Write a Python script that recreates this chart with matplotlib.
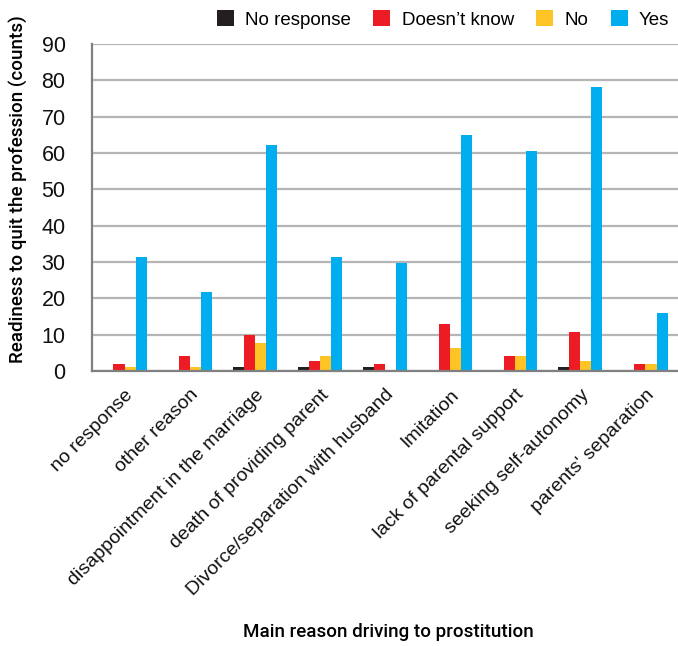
import numpy as np
import matplotlib
matplotlib.use("Agg")
import matplotlib.pyplot as plt

plt.rcParams['font.family'] = ['Liberation Sans', 'DejaVu Sans']

# data
reasons = ["no response", "other reason", "disappointment in the marriage",
           "death of providing parent", "Divorce/separation with husband",
           "Imitation", "lack of parental support", "seeking self-autonomy",
           "parents' separation"]
no_response = [0, 0, 1, 1, 1, 0, 0, 1, 0]
doesnt_know = [2, 4, 10, 2.7, 2, 13, 4, 10.7, 2]
no = [1, 1, 7.7, 4.2, 0, 6.3, 4, 2.7, 2]
yes = [31.4, 21.8, 62.2, 31.4, 29.7, 65, 60.6, 78.2, 16]

series = [("No response", no_response, "#231f20"),
          ("Doesn\u2019t know", doesnt_know, "#ed1c24"),
          ("No", no, "#fec325"),
          ("Yes", yes, "#00aeef")]

fig = plt.figure(figsize=(6.78, 6.46), dpi=100)
ax = fig.add_axes([0.1357, 0.4257, 0.8643, 0.5062])

x = np.arange(len(reasons))
w = 0.17
for i, (name, vals, col) in enumerate(series):
    ax.bar(x + (i - 1.5) * w, vals, w, color=col, label=name, zorder=3)

ax.set_xlim(-0.5, 8.5)
ax.set_ylim(0, 90)
ax.set_yticks(range(0, 91, 10))
ax.yaxis.grid(True, color="#b5b5b5", linewidth=1.6, zorder=0)
ax.set_axisbelow(True)
for s in ["top", "right"]:
    ax.spines[s].set_visible(False)
for s in ["left", "bottom"]:
    ax.spines[s].set_color("#808080")
    ax.spines[s].set_linewidth(1.6)
    ax.spines[s].set_zorder(4)
ax.tick_params(length=0, colors="#111111")
ax.tick_params(axis="y", labelsize=15.5, pad=19)
ax.tick_params(axis="x", pad=11)
ax.set_xticks(x)
ax.set_xticklabels(reasons, rotation=45, ha="right", rotation_mode="anchor", fontsize=14)

lab_font = dict(family=["Roboto", "Liberation Sans", "DejaVu Sans"], fontsize=13.5, fontweight="medium")
ax.set_ylabel("Readiness to quit the profession (counts)", **lab_font)
ax.yaxis.set_label_coords(-0.11, 0.555)
ax.set_xlabel("Main reason driving to prostitution", **lab_font)
ax.xaxis.set_label_coords(0.505, -0.77)

fig.legend(loc="upper right", bbox_to_anchor=(1.012, 1.01), ncol=4, frameon=False,
           fontsize=13.5, handlelength=0.9, handleheight=0.9, handletextpad=0.6,
           columnspacing=1.2)

fig.savefig("out.png", dpi=100)
